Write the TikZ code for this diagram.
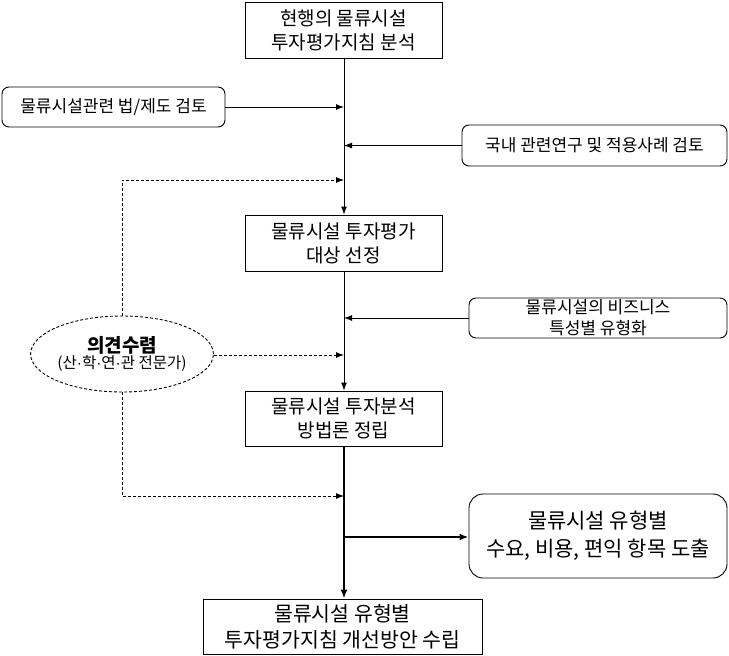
\documentclass[tikz,border=0pt]{standalone}
\usepackage{fontspec}
\setmainfont{Noto Sans CJK KR}
\newfontfamily\latinf{Liberation Sans}
\usetikzlibrary{arrows.meta,shapes.geometric}
\newcommand{\mdot}{{\latinf ·}}
\begin{document}
\begin{tikzpicture}[x=1pt,y=-1pt,
  mainbox/.style={draw,line width=0.9pt,inner sep=0pt,align=center,font=\fontsize{19}{24}\selectfont},
  sidebox/.style={draw,line width=0.9pt,rounded corners=7pt,inner sep=0pt,align=center,font=\fontsize{17}{21}\selectfont},
  thinarr/.style={line width=0.9pt,-{Latex[length=8pt,width=6pt]}},
  thickarr/.style={line width=2pt,-{Latex[length=9pt,width=7pt]}},
  dasharr/.style={line width=0.9pt,dash pattern=on 3pt off 2pt,-{Latex[length=8pt,width=6pt]}},
  dashline/.style={line width=0.9pt,dash pattern=on 3pt off 2pt}]
\useasboundingbox (0,0) rectangle (729,656);
% main boxes
\node[mainbox,minimum width=197pt,minimum height=56pt] (b1) at (343.5,30) {현행의 물류시설\\투자평가지침 분석};
\node[mainbox,minimum width=197pt,minimum height=56pt] (b2) at (343.5,243) {물류시설 투자평가\\대상 선정};
\node[mainbox,minimum width=197pt,minimum height=55pt] (b3) at (343.5,418.5) {물류시설 투자분석\\방법론 정립};
\node[mainbox,minimum width=279pt,minimum height=55pt,font=\fontsize{20.5}{26}\selectfont] (b4) at (342.5,626.5) {물류시설 유형별\\투자평가지침 개선방안 수립};
% side boxes
\node[sidebox,minimum width=223pt,minimum height=40pt] (l1) at (113.5,107) {물류시설관련 법/제도 검토};
\node[sidebox,minimum width=265pt,minimum height=41pt] (r1) at (594.5,145.5) {국내 관련연구 및 적용사례 검토};
\node[sidebox,minimum width=258pt,minimum height=40pt] (r2) at (598,318) {물류시설의 비즈니스\\특성별 유형화};
\node[sidebox,rounded corners=14pt,minimum width=258pt,minimum height=84pt,font=\fontsize{21}{28}\selectfont] (r3) at (598,536) {물류시설 유형별\\수요, 비용, 편익 항목 도출};
% ellipse
\node[draw,ellipse,dashline,inner sep=0pt,minimum width=178pt,minimum height=76pt,align=center] (e) at (122,354)
  {{\fontsize{19}{22}\selectfont\bfseries 의견수렴}\\{\fontsize{15.5}{19}\selectfont (산\mdot 학\mdot 연\mdot 관 전문가)}};
% junction coordinates
\coordinate (d1) at (344,180);
\coordinate (d2) at (344,355);
\coordinate (d3) at (344,496);
\coordinate (j3) at (344,537);
% main flow
\draw[thinarr] (b1.south -| d1) -- (b2.north -| d1);
\draw[thinarr] (b2.south -| d1) -- (b3.north -| d1);
\draw[thickarr] (b3.south -| d1) -- (b4.north -| d1);
% side inputs
\draw[thinarr] (l1.east) -- (l1.east -| d1);
\draw[thinarr] (r1.west) -- (r1.west -| d1);
\draw[thinarr] (r2.west) -- (r2.west -| d1);
\draw[thickarr] (j3) -- (j3 -| r3.west);
% dashed feedback
\draw[dasharr] (e.north) |- (d1);
\draw[dasharr] (e.east |- d2) -- (d2);
\draw[dasharr] (e.south) |- (d3);
\end{tikzpicture}
\end{document}
